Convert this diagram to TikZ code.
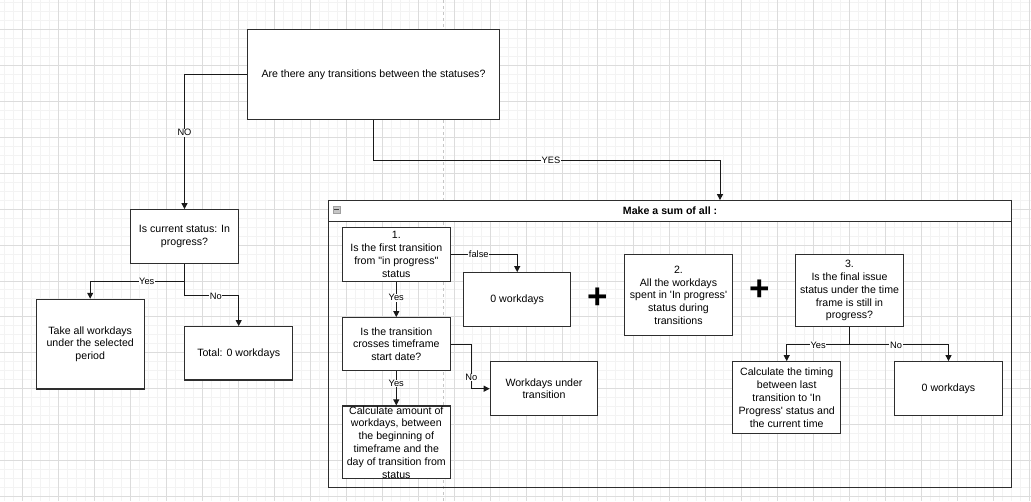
\documentclass[tikz,border=0pt]{standalone}
\usepackage{fontspec}
\setmainfont{Liberation Sans}[Ligatures=TeXOff]
\usetikzlibrary{arrows.meta}
\definecolor{gmaj}{HTML}{DCDCDC}
\definecolor{gmin}{HTML}{F3F3F3}
\definecolor{bord}{HTML}{2E2E2E}
\begin{document}
\begin{tikzpicture}[x=1pt,y=-1pt,
  box/.style={draw=bord, fill=white, line width=1.2pt, inner sep=0pt, align=center,
    font=\fontsize{10.6}{12.8}\selectfont, minimum width=108pt},
  edge/.style={draw=black!90, line width=1pt, -{Triangle[length=6pt,width=6pt]}},
  lbl/.style={fill=white, inner sep=0.6pt, font=\fontsize{9.3}{11}\selectfont},
  plussign/.style={font=\fontsize{35}{35}\bfseries\selectfont, inner sep=0pt},
]
\useasboundingbox (0,0) rectangle (1031,501);
\fill[white] (0,0) rectangle (1031,501);
% grid
\foreach \i in {0,...,116} {
  \draw[gmin, line width=0.9pt] ({22.7+8.9875*(\i-3)},0) -- ({22.7+8.9875*(\i-3)},501);
}
\foreach \i in {0,...,58} {
  \draw[gmin, line width=0.9pt] (0,{29.3+8.9875*(\i-4)}) -- (1031,{29.3+8.9875*(\i-4)});
}
\foreach \i in {0,...,29} {
  \draw[gmaj, line width=0.9pt] ({22.7+35.95*(\i)},0) -- ({22.7+35.95*(\i)},501);
}
\foreach \i in {0,...,14} {
  \draw[gmaj, line width=0.9pt] (0,{29.3+35.95*(\i)}) -- (1031,{29.3+35.95*(\i)});
}
% page break line
\draw[gray!45, line width=1pt, dash pattern=on 3pt off 3pt] (443.3,0) -- (443.3,501);

% container
\node[draw=bord, line width=1.2pt, minimum width=683.2pt, minimum height=286.5pt, inner sep=0pt] (cont) at (670.1,343.95) {};
\node[draw=bord, fill=white, line width=1.2pt, minimum width=683.2pt, minimum height=20.8pt, inner sep=0pt, anchor=north,
  font=\fontsize{10.6}{12.8}\bfseries\selectfont] (hdr) at (cont.north) {Make a sum of all :};
\node[draw=gray!75, fill=gray!45, line width=0.6pt, minimum width=7pt, minimum height=6.5pt, inner sep=0pt] (col) at (336.7,209.6) {};
\draw[black!75, line width=1.3pt] ([xshift=1.4pt]col.west) -- ([xshift=-1.4pt]col.east);

% boxes
\node[box, minimum width=252.4pt, minimum height=89.6pt] (top) at (373.5,74.5) {Are there any transitions between the statuses?};
\node[box, minimum height=53.6pt] (cur) at (184.5,236.5) {Is current status: In\\progress?};
\node[box, minimum height=89.7pt] (take) at (90.2,344.2) {Take all workdays\\under the selected\\period};
\node[box, minimum height=53.3pt] (total) at (238.7,353.3) {Total: 0 workdays};

\node[box, minimum height=54pt] (b1) at (396.3,254.3) {1.\\Is the first transition\\from "in progress"\\status};
\node[box, minimum width=107pt, minimum height=54pt] (zero1) at (517.2,299.7) {0 workdays};
\node[box, minimum height=53pt] (b2) at (396.3,344.2) {Is the transition\\crosses timeframe\\start date?};
\node[box, minimum width=107.4pt, minimum height=54pt] (wut) at (544,388.7) {Workdays under\\transition};
\node[box, minimum height=72.7pt] (b3) at (396.3,442.35) {Calculate amount of\\workdays, between\\the beginning of\\timeframe and the\\day of transition from\\status};

\node[box, minimum height=81pt] (two) at (678.5,295.2) {2.\\All the workdays\\spent in 'In progress'\\status during\\transitions};
\node[box, minimum height=72pt] (three) at (849.5,290.7) {3.\\Is the final issue\\status under the time\\frame is still in\\progress?};
\node[box, minimum height=72pt] (calc) at (786.7,397.7) {Calculate the timing\\between last\\transition to 'In\\Progress' status and\\the current time};
\node[box, minimum height=54pt] (zero2) at (948.5,388.7) {0 workdays};

\node[plussign] (plus1) at (598,298.3) {+};
\node[plussign] (plus2) at (760,290.3) {+};

% connectors
\draw[edge] (top.west) -| node[lbl, pos=0.716] {NO} (cur.north);
\coordinate (yesmid) at (720,160.3);
\draw[edge] (top.south) |- node[lbl, pos=0.756] {YES} (yesmid) -- (yesmid |- cont.north);

\draw[edge] (cur.south) -- ++(0,17.7) -| node[lbl, pos=0.2] {Yes} (take.north);
\draw[edge] (cur.south) -- ++(0,32) -| node[lbl, pos=0.29] {No} (total.north);

\draw[edge] (b1.east) -| node[lbl, pos=0.21] {false} (zero1.north);
\draw[edge] (b1.south) -- node[lbl, pos=0.45] {Yes} (b2.north);
\draw[edge] (b2.east) -- ++(20.4,0) |- node[lbl, pos=0.375] {No} (wut.west);
\draw[edge] (b2.south) -- node[lbl, pos=0.36] {Yes} (b3.north);

\draw[edge] (three.south) -- ++(0,17.6) -| node[lbl, pos=0.25] {Yes} (calc.north);
\draw[edge] (three.south) -- ++(0,17.6) -| node[lbl, pos=0.235] {No} (zero2.north);
\end{tikzpicture}
\end{document}
